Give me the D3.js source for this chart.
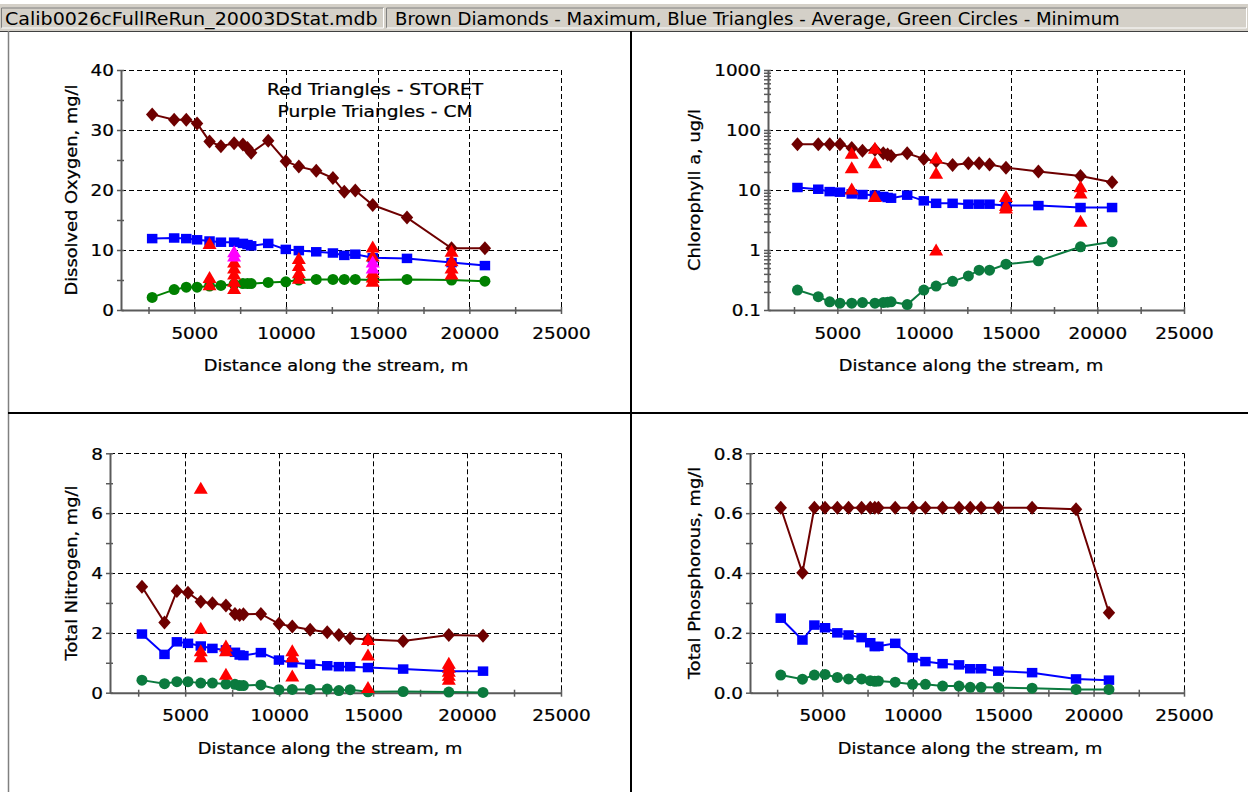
<!DOCTYPE html>
<html>
<head>
<meta charset="utf-8">
<script src="https://cdn.jsdelivr.net/npm/d3@7"></script>
<style>
  html, body { margin: 0; padding: 0; background: #fff; }
  svg { display: block; }
  text { font-family: "DejaVu Sans", Verdana, sans-serif; fill: #000; }
  .plot-text { stroke: #000; stroke-width: 0.25px; }
</style>
</head>
<body>
<svg id="chart" width="1248" height="792"></svg>
<script>
// Distance along the stream of every model output point, m
const distance = [2700, 3900, 4560, 5150, 5830, 6450, 7170, 7650, 7900, 8100, 9030,
                  9990, 10700, 11650, 12560, 13180, 13780, 14730, 16600, 19030, 20850];

// Dissolved oxygen, mg/l
const doMax = [32.6, 31.7, 31.7, 31.1, 28.1, 27.3, 27.8, 27.6, 27.0, 26.2, 28.2,
               24.8, 23.9, 23.2, 22.0, 19.7, 19.9, 17.5, 15.4, 10.3, 10.3];
const doAvg = [11.9, 12.0, 11.9, 11.7, 11.5, 11.3, 11.3, 11.1, 10.9, 10.7, 11.1,
               10.1, 9.9, 9.7, 9.5, 9.1, 9.3, 8.7, 8.6, 7.9, 7.4];
const doMin = [2.1, 3.4, 3.8, 3.8, 4.0, 4.1, 4.3, 4.4, 4.4, 4.4, 4.6,
               4.7, 5.0, 5.1, 5.1, 5.1, 5.1, 5.0, 5.1, 5.0, 4.8];
const doStoretDist = [5830, 5830, 5830, 7170, 7170, 7170, 7170, 7170, 10700, 10700, 10700, 10700,
                      14730, 14730, 14730, 14730, 14730, 19030, 19030, 19030, 19030];
const doStoretVal  = [11.1, 5.4, 4.2, 8.0, 7.0, 6.0, 4.8, 3.6, 8.6, 7.4, 6.2, 5.3,
                      10.5, 9.0, 6.3, 5.5, 4.8, 9.8, 8.2, 7.0, 6.0];
const doCmDist = [7170, 7170, 14730, 14730];
const doCmVal  = [9.7, 9.0, 8.0, 7.0];

// Chlorophyll a, ug/l
const chlMax = [58, 58, 58, 58, 50, 45, 47, 41, 39, 37, 41,
                33, 30, 26, 28, 28, 26.5, 23.6, 20.4, 17.1, 13.5];
const chlAvg = [11.0, 10.3, 9.4, 9.2, 8.6, 8.4, 8.2, 7.8, 7.5, 7.3, 8.2,
                6.6, 6.0, 6.0, 5.8, 5.8, 5.8, 5.5, 5.5, 5.1, 5.1];
const chlMin = [0.215, 0.167, 0.137, 0.130, 0.130, 0.133, 0.130, 0.133, 0.135, 0.137, 0.123,
                0.215, 0.25, 0.30, 0.37, 0.46, 0.46, 0.58, 0.66, 1.13, 1.37];
const chlStoretDist = [5830, 5830, 5830, 7170, 7170, 7170, 10700, 10700, 10700,
                       14730, 14730, 14730, 19030, 19030, 19030];
const chlStoretVal  = [41, 23.6, 10.4, 49.6, 28.5, 7.8, 34, 19, 1.0,
                       7.8, 5.5, 5.0, 11.3, 8.9, 3.0];

// Total nitrogen, mg/l
const tnMax = [3.54, 2.35, 3.40, 3.34, 3.04, 2.99, 2.91, 2.63, 2.60, 2.62, 2.63,
               2.30, 2.21, 2.10, 2.02, 1.93, 1.82, 1.78, 1.73, 1.93, 1.90];
const tnAvg = [1.96, 1.28, 1.70, 1.65, 1.56, 1.48, 1.43, 1.35, 1.26, 1.24, 1.34,
               1.09, 1.00, 0.95, 0.90, 0.87, 0.87, 0.84, 0.79, 0.72, 0.72];
const tnMin = [0.42, 0.30, 0.37, 0.37, 0.32, 0.32, 0.29, 0.28, 0.24, 0.24, 0.26,
               0.10, 0.11, 0.11, 0.12, 0.07, 0.10, 0.03, 0.04, 0.02, 0.01];
const tnStoretDist = [5830, 5830, 5830, 5830, 7170, 7170, 7170, 10700, 10700, 10700,
                      14730, 14730, 14730, 19030, 19030, 19030, 19030, 19030];
const tnStoretVal  = [6.83, 2.15, 1.40, 1.20, 1.56, 1.40, 0.62, 1.40, 1.20, 0.56,
                      1.78, 1.26, 0.17, 0.98, 0.85, 0.72, 0.58, 0.45];

// Total phosphorous, mg/l
const tpMax = [0.618, 0.401, 0.618, 0.618, 0.618, 0.618, 0.618, 0.618, 0.618, 0.618, 0.618,
               0.618, 0.618, 0.618, 0.618, 0.618, 0.618, 0.618, 0.618, 0.613, 0.267];
const tpAvg = [0.249, 0.176, 0.226, 0.217, 0.200, 0.193, 0.184, 0.167, 0.154, 0.155, 0.165,
               0.117, 0.104, 0.097, 0.093, 0.080, 0.080, 0.072, 0.067, 0.046, 0.042];
const tpMin = [0.059, 0.045, 0.059, 0.061, 0.051, 0.046, 0.046, 0.040, 0.038, 0.039, 0.035,
               0.028, 0.028, 0.022, 0.022, 0.018, 0.018, 0.017, 0.015, 0.011, 0.011];

// Axis ticks
const xDomain = [1000, 25000];
const xTicks = [5000, 10000, 15000, 20000, 25000];
const xMinorTicks = [2500, 7500, 12500, 17500, 22500];
const doTicks = [0, 10, 20, 30, 40];
const doMinorTicks = [5, 15, 25, 35];
const chlTicks = [0.1, 1, 10, 100, 1000];
const chlTickLabels = ["0.1", "1", "10", "100", "1000"];
const tnTicks = [0, 2, 4, 6, 8];
const tnMinorTicks = [1, 3, 5, 7];
const tpTicks = [0, 0.2, 0.4, 0.6, 0.8];
const tpTickLabels = ["0.0", "0.2", "0.4", "0.6", "0.8"];
const tpMinorTicks = [0.1, 0.3, 0.5, 0.7];

const fileName = "Calib0026cFullReRun_20003DStat.mdb";
const legendText = "Brown Diamonds - Maximum, Blue Triangles - Average, Green Circles - Minimum";
const xTitle = "Distance along the stream, m";
const noteLines = ["Red Triangles - STORET", "Purple Triangles - CM"];

// ------------------------------------------------------------------
const STRETCH = 1.15;         // the plot fonts render wide
const COL_MAX = "#6e0000", COL_AVG = "#0000ff", COL_OBS = "#ff0000", COL_CM = "#ff00ff";
const AXIS_COL = "#5a5a5a";

const svg = d3.select("#chart");

// status bar across the top
const bar = svg.append("g");
bar.append("rect").attr("x", 0).attr("y", 4).attr("width", 1248).attr("height", 27).attr("fill", "#d4d0c8");
function sunkenBox(x0, x1) {
  bar.append("path").attr("d", `M${x0},28 V8 H${x1}`).attr("fill", "none").attr("stroke", "#808080");
  bar.append("path").attr("d", `M${x1},8 V28 H${x0}`).attr("fill", "none").attr("stroke", "#ffffff");
}
sunkenBox(1.5, 383.5);
sunkenBox(386.5, 1246.5);
bar.append("text").attr("transform", "translate(5,24.5) scale(1.0,1)")
  .style("font-size", "17px").text(fileName)
  .each(function () { fitWidth(this, 373); });
bar.append("text").attr("transform", "translate(395,24.5)")
  .style("font-size", "17px").text(legendText)
  .each(function () { fitWidth(this, 725); });

// stretch a status-bar label horizontally to its box width
function fitWidth(node, w) {
  const len = node.getComputedTextLength();
  const t = node.getAttribute("transform").replace(/scale\([^)]*\)/, "");
  node.setAttribute("transform", `${t} scale(${w / len},1)`);
}

// panel frame
const frame = svg.append("g");
frame.append("line").attr("x1", 0).attr("x2", 1248).attr("y1", 31.5).attr("y2", 31.5).attr("stroke", "#404040").attr("stroke-width", 1);
frame.append("line").attr("x1", 8.5).attr("x2", 8.5).attr("y1", 31).attr("y2", 792).attr("stroke", "#808080").attr("stroke-width", 1.5);
frame.append("line").attr("x1", 631).attr("x2", 631).attr("y1", 31).attr("y2", 792).attr("stroke", "#000").attr("stroke-width", 2);
frame.append("line").attr("x1", 8).attr("x2", 1248).attr("y1", 413).attr("y2", 413).attr("stroke", "#000").attr("stroke-width", 2);

const panels = [
  { left: 121, right: 561, top: 70, bottom: 310, log: false, domain: [0, 40],
    ticks: doTicks, labels: doTicks.map(String), minor: doMinorTicks,
    yTitle: "Dissolved Oxygen, mg/l", yTitleX: 71, xTitleX: 336, xTitleY: 371,
    max: doMax, avg: doAvg, min: doMin, minColor: "#008000",
    obsDist: doStoretDist, obsVal: doStoretVal, cmDist: doCmDist, cmVal: doCmVal, note: true },
  { left: 768, right: 1184, top: 70, bottom: 310, log: true, domain: [0.1, 1000],
    ticks: chlTicks, labels: chlTickLabels,
    minor: d3.merge(chlTicks.slice(0, -1).map(d => d3.range(2, 10).map(k => k * d))),
    yTitle: "Chlorophyll a, ug/l", yTitleX: 694, xTitleX: 971, xTitleY: 371,
    max: chlMax, avg: chlAvg, min: chlMin, minColor: "#0b7a3e",
    obsDist: chlStoretDist, obsVal: chlStoretVal },
  { left: 110, right: 561, top: 453.3, bottom: 692.7, log: false, domain: [0, 8],
    ticks: tnTicks, labels: tnTicks.map(String), minor: tnMinorTicks,
    yTitle: "Total Nitrogen, mg/l", yTitleX: 71, xTitleX: 330, xTitleY: 754,
    max: tnMax, avg: tnAvg, min: tnMin, minColor: "#0b7a3e",
    obsDist: tnStoretDist, obsVal: tnStoretVal },
  { left: 750, right: 1184, top: 453.3, bottom: 692.7, log: false, domain: [0, 0.8],
    ticks: tpTicks, labels: tpTickLabels, minor: tpMinorTicks,
    yTitle: "Total Phosphorous, mg/l", yTitleX: 694, xTitleX: 970, xTitleY: 754,
    max: tpMax, avg: tpAvg, min: tpMin, minColor: "#0b7a3e" }
];

const diamondPath = "M0,-7L6.2,0L0,7L-6.2,0Z";
const trianglePath = "M0,-6.5L7,5.5L-7,5.5Z";

function drawPanel(p) {
  const g = svg.append("g");
  const x = d3.scaleLinear().domain(xDomain).range([p.left, p.right]);
  const y = (p.log ? d3.scaleLog() : d3.scaleLinear()).domain(p.domain).range([p.bottom, p.top]);

  // dashed grid
  const grid = g.append("g").attr("stroke", "#000").attr("stroke-width", 1).attr("stroke-dasharray", "5,3");
  grid.selectAll("line.h").data(p.ticks.slice(1)).join("line")
    .attr("x1", p.left).attr("x2", p.right)
    .attr("y1", d => Math.round(y(d)) + 0.5).attr("y2", d => Math.round(y(d)) + 0.5);
  grid.selectAll("line.v").data(xTicks).join("line")
    .attr("y1", p.top).attr("y2", p.bottom)
    .attr("x1", d => Math.round(x(d)) + 0.5).attr("x2", d => Math.round(x(d)) + 0.5);

  // axes
  const labelOf = new Map(p.ticks.map((t, i) => [t, p.labels[i]]));
  const yAxis = g.append("g").attr("transform", `translate(${p.left},0)`)
    .call(d3.axisLeft(y).tickValues(p.ticks).tickFormat(d => labelOf.get(d)).tickSize(4).tickSizeOuter(0));
  const yMinor = g.append("g").attr("transform", `translate(${p.left},0)`)
    .call(d3.axisLeft(y).tickValues(p.minor).tickFormat("").tickSize(3).tickSizeOuter(0));
  yMinor.select(".domain").remove();
  const xAxis = g.append("g").attr("transform", `translate(0,${p.bottom})`)
    .call(d3.axisBottom(x).tickValues(xTicks).tickFormat(d3.format("d")).tickSize(4).tickSizeOuter(0));
  const xMinor = g.append("g").attr("transform", `translate(0,${p.bottom})`)
    .call(d3.axisBottom(x).tickValues(xMinorTicks).tickFormat("").tickSize(4).tickSizeOuter(0));
  xMinor.select(".domain").remove();

  [yAxis, yMinor].forEach(a => a.selectAll(".tick line").attr("x1", 3).attr("x2", -4));
  [xAxis, xMinor].forEach(a => a.selectAll(".tick line").attr("y1", -3).attr("y2", 4));
  [yAxis, yMinor, xAxis, xMinor].forEach(a => {
    a.selectAll(".domain").attr("stroke", AXIS_COL).attr("stroke-width", 2);
    a.selectAll(".tick line").attr("stroke", AXIS_COL).attr("stroke-width", 1.5);
    a.selectAll("text").classed("plot-text", true).style("font-size", "16px").attr("fill", "#000")
      .style("font-family", '"DejaVu Sans", Verdana, sans-serif');
  });
  yAxis.selectAll(".tick text").attr("x", null).attr("dy", "0.36em")
    .attr("transform", `translate(-7,0) scale(${STRETCH},1)`);
  xAxis.selectAll(".tick text").attr("y", null).attr("dy", null)
    .attr("transform", `translate(0,28.5) scale(${STRETCH},1)`);

  // axis titles
  g.append("text").attr("class", "plot-text").attr("text-anchor", "middle")
    .attr("transform", `translate(${p.xTitleX},${p.xTitleY}) scale(${STRETCH},1)`)
    .style("font-size", "15.5px").text(xTitle);
  g.append("text").attr("class", "plot-text").attr("text-anchor", "middle")
    .attr("transform", `translate(${p.yTitleX + 6},${(p.top + p.bottom) / 2}) rotate(-90) scale(${STRETCH},1)`)
    .style("font-size", "15.5px").text(p.yTitle);

  if (p.note) {
    noteLines.forEach((t, i) => {
      g.append("text").attr("class", "plot-text").attr("text-anchor", "middle")
        .attr("transform", `translate(375,${95 + i * 21.5}) scale(1.2,1)`)
        .style("font-size", "15.5px").text(t);
    });
  }

  // model series
  const series = [
    { vals: p.max, color: COL_MAX, shape: "diamond" },
    { vals: p.avg, color: COL_AVG, shape: "square" },
    { vals: p.min, color: p.minColor, shape: "circle" }
  ];
  const line = d3.line().x(d => x(d[0])).y(d => y(d[1]));
  series.forEach(s => {
    const pts = distance.map((d, i) => [d, s.vals[i]]);
    g.append("path").attr("d", line(pts)).attr("fill", "none")
      .attr("stroke", s.color).attr("stroke-width", 2);
    const m = g.append("g").attr("fill", s.color);
    if (s.shape === "diamond") {
      m.selectAll("path").data(pts).join("path").attr("d", diamondPath)
        .attr("transform", d => `translate(${x(d[0])},${y(d[1])})`);
    } else if (s.shape === "square") {
      m.selectAll("rect").data(pts).join("rect").attr("width", 10.5).attr("height", 9.5)
        .attr("x", d => x(d[0]) - 5.25).attr("y", d => y(d[1]) - 4.75);
    } else {
      m.selectAll("circle").data(pts).join("circle").attr("r", 5.5)
        .attr("cx", d => x(d[0])).attr("cy", d => y(d[1]));
    }
  });

  // field observations
  function triangles(dist, vals, color) {
    if (!dist) return;
    g.append("g").attr("fill", color).selectAll("path")
      .data(dist.map((d, i) => [d, vals[i]])).join("path")
      .attr("d", trianglePath)
      .attr("transform", d => `translate(${x(d[0])},${y(d[1])})`);
  }
  triangles(p.obsDist, p.obsVal, COL_OBS);
  triangles(p.cmDist, p.cmVal, COL_CM);
}

panels.forEach(drawPanel);
</script>
</body>
</html>
